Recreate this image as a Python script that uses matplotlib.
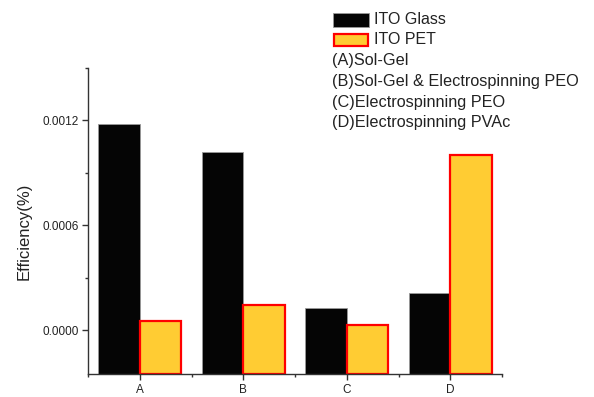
import matplotlib
matplotlib.use("Agg")
import matplotlib.pyplot as plt
from matplotlib.patches import Rectangle
from matplotlib.ticker import FixedLocator, FuncFormatter
import numpy as np

plt.rcParams['font.family'] = ['Liberation Sans', 'DejaVu Sans']

# Data
categories = ['A', 'B', 'C', 'D']
ito_glass = [0.00118, 0.00102, 0.00013, 0.000215]
ito_pet = [0.000053, 0.000145, 0.000033, 0.001005]
series_labels = ['ITO Glass', 'ITO PET']
descriptions = ['(A)Sol-Gel',
                '(B)Sol-Gel & Electrospinning PEO',
                '(C)Electrospinning PEO',
                '(D)Electrospinning PVAc']
y_ticks = [0.0, 0.0006, 0.0012]
y_minor = [0.0003, 0.0009, 0.0015]
y_min, y_max = -0.00025, 0.0015

W, H = 594, 397
fig = plt.figure(figsize=(W / 100, H / 100), dpi=100)


def fx(px):
    return px / W


def fy(py):
    return 1 - py / H


ax = fig.add_axes([fx(88), fy(374), fx(502 - 88), (374 - 68) / H])

x = np.arange(len(categories))
w = 0.4
glass_color = '#050505'
pet_color = '#FFCC33'
pet_edge = '#FF0000'

ax.bar(x - w / 2, np.array(ito_glass) - y_min, w, bottom=y_min,
       color=glass_color, edgecolor='#9a9a9a', linewidth=0.6, zorder=2)
ax.bar(x + w / 2, np.array(ito_pet) - y_min, w, bottom=y_min,
       color=pet_color, edgecolor=pet_edge, linewidth=1.6, zorder=3)

ax.set_xlim(-0.5, 3.5)
ax.set_ylim(y_min, y_max)

for s in ('top', 'right'):
    ax.spines[s].set_visible(False)
for s in ('left', 'bottom'):
    ax.spines[s].set_color('#333333')
    ax.spines[s].set_linewidth(1.0)
    ax.spines[s].set_zorder(5)

ax.yaxis.set_major_locator(FixedLocator(y_ticks))
ax.yaxis.set_minor_locator(FixedLocator(y_minor))
ax.yaxis.set_major_formatter(FuncFormatter(lambda v, p: f'{v:.4f}'))
ax.set_xticks(x)
ax.set_xticklabels(categories)
ax.xaxis.set_minor_locator(FixedLocator(np.arange(-0.5, 4.0, 1.0)))

ax.tick_params(axis='both', which='major', direction='out', length=4.5,
               width=1.0, color='#333333', labelsize=8.5, labelcolor='#222222')
ax.tick_params(axis='both', which='minor', direction='out', length=2.5,
               width=1.0, color='#333333')
ax.tick_params(axis='y', which='major', pad=2)
ax.tick_params(axis='x', which='major', pad=3)

ax.set_ylabel('Efficiency(%)', fontsize=12, color='#222222')
ax.yaxis.set_label_coords((32 - 88) / 414, (374 - 231) / 306)

# Key: two filled swatches followed by the sample descriptions
fig.patches.append(Rectangle((fx(333), fy(27)), fx(36), 14 / H,
                             transform=fig.transFigure, facecolor=glass_color,
                             edgecolor='#9a9a9a', linewidth=0.6))
fig.patches.append(Rectangle((fx(334), fy(46)), fx(34), 12 / H,
                             transform=fig.transFigure, facecolor=pet_color,
                             edgecolor=pet_edge, linewidth=1.6))
fig.text(fx(374), fy(20), series_labels[0], fontsize=11.5, va='center',
         ha='left', color='#222222')
fig.text(fx(374), fy(40), series_labels[1], fontsize=11.5, va='center',
         ha='left', color='#222222')
for i, d in enumerate(descriptions):
    fig.text(fx(332), fy(61 + 20.5 * i), d, fontsize=11.7, va='center',
             ha='left', color='#222222')

fig.savefig('out.png', dpi=100)
